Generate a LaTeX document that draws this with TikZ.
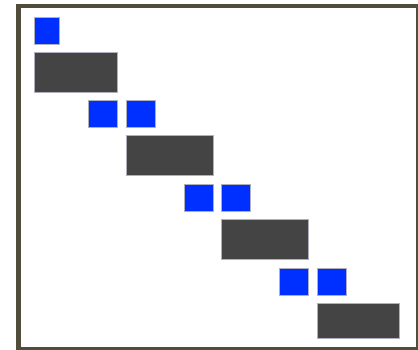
\documentclass[tikz,border=0pt]{standalone}
\usetikzlibrary{positioning}
\definecolor{framecol}{RGB}{80,78,58}
\definecolor{bluefill}{RGB}{0,48,255}
\definecolor{darkfill}{RGB}{68,68,68}
\definecolor{edgecol}{RGB}{175,175,190}
\tikzset{
  cell/.style={draw=edgecol, line width=0.7pt, inner sep=0pt, outer sep=0pt, anchor=north west},
  bluebox/.style={cell, fill=bluefill, minimum width=#1pt, minimum height=27pt},
  darkbox/.style={cell, fill=darkfill, minimum width=#1pt, minimum height=40pt},
}
\begin{document}
\begin{tikzpicture}[x=1pt,y=-1pt]
\useasboundingbox (0,0) rectangle (418,349);
\clip (0,0) rectangle (418,349);
\fill[white] (0,0) rectangle (418,349);
\draw[framecol, line width=4.8pt] (18.5,6) rectangle (418.6,349.6);
% row 1
\node[bluebox=25] (b1) at (34,17) {};
\node[darkbox=83] (d1) at (34,52) {};
% row 2
\node[bluebox=29] (b2a) at (88,100) {};
\node[bluebox=29] (b2b) at (126,100) {};
\node[darkbox=87] (d2) at (126,135) {};
% row 3
\node[bluebox=29] (b3a) at (184,184) {};
\node[bluebox=29] (b3b) at (221,184) {};
\node[darkbox=87] (d3) at (221,219) {};
% row 4
\node[bluebox=29] (b4a) at (279,268) {};
\node[bluebox=29] (b4b) at (317,268) {};
\node[darkbox=82,minimum height=35pt] (d4) at (317,303) {};
\end{tikzpicture}
\end{document}
